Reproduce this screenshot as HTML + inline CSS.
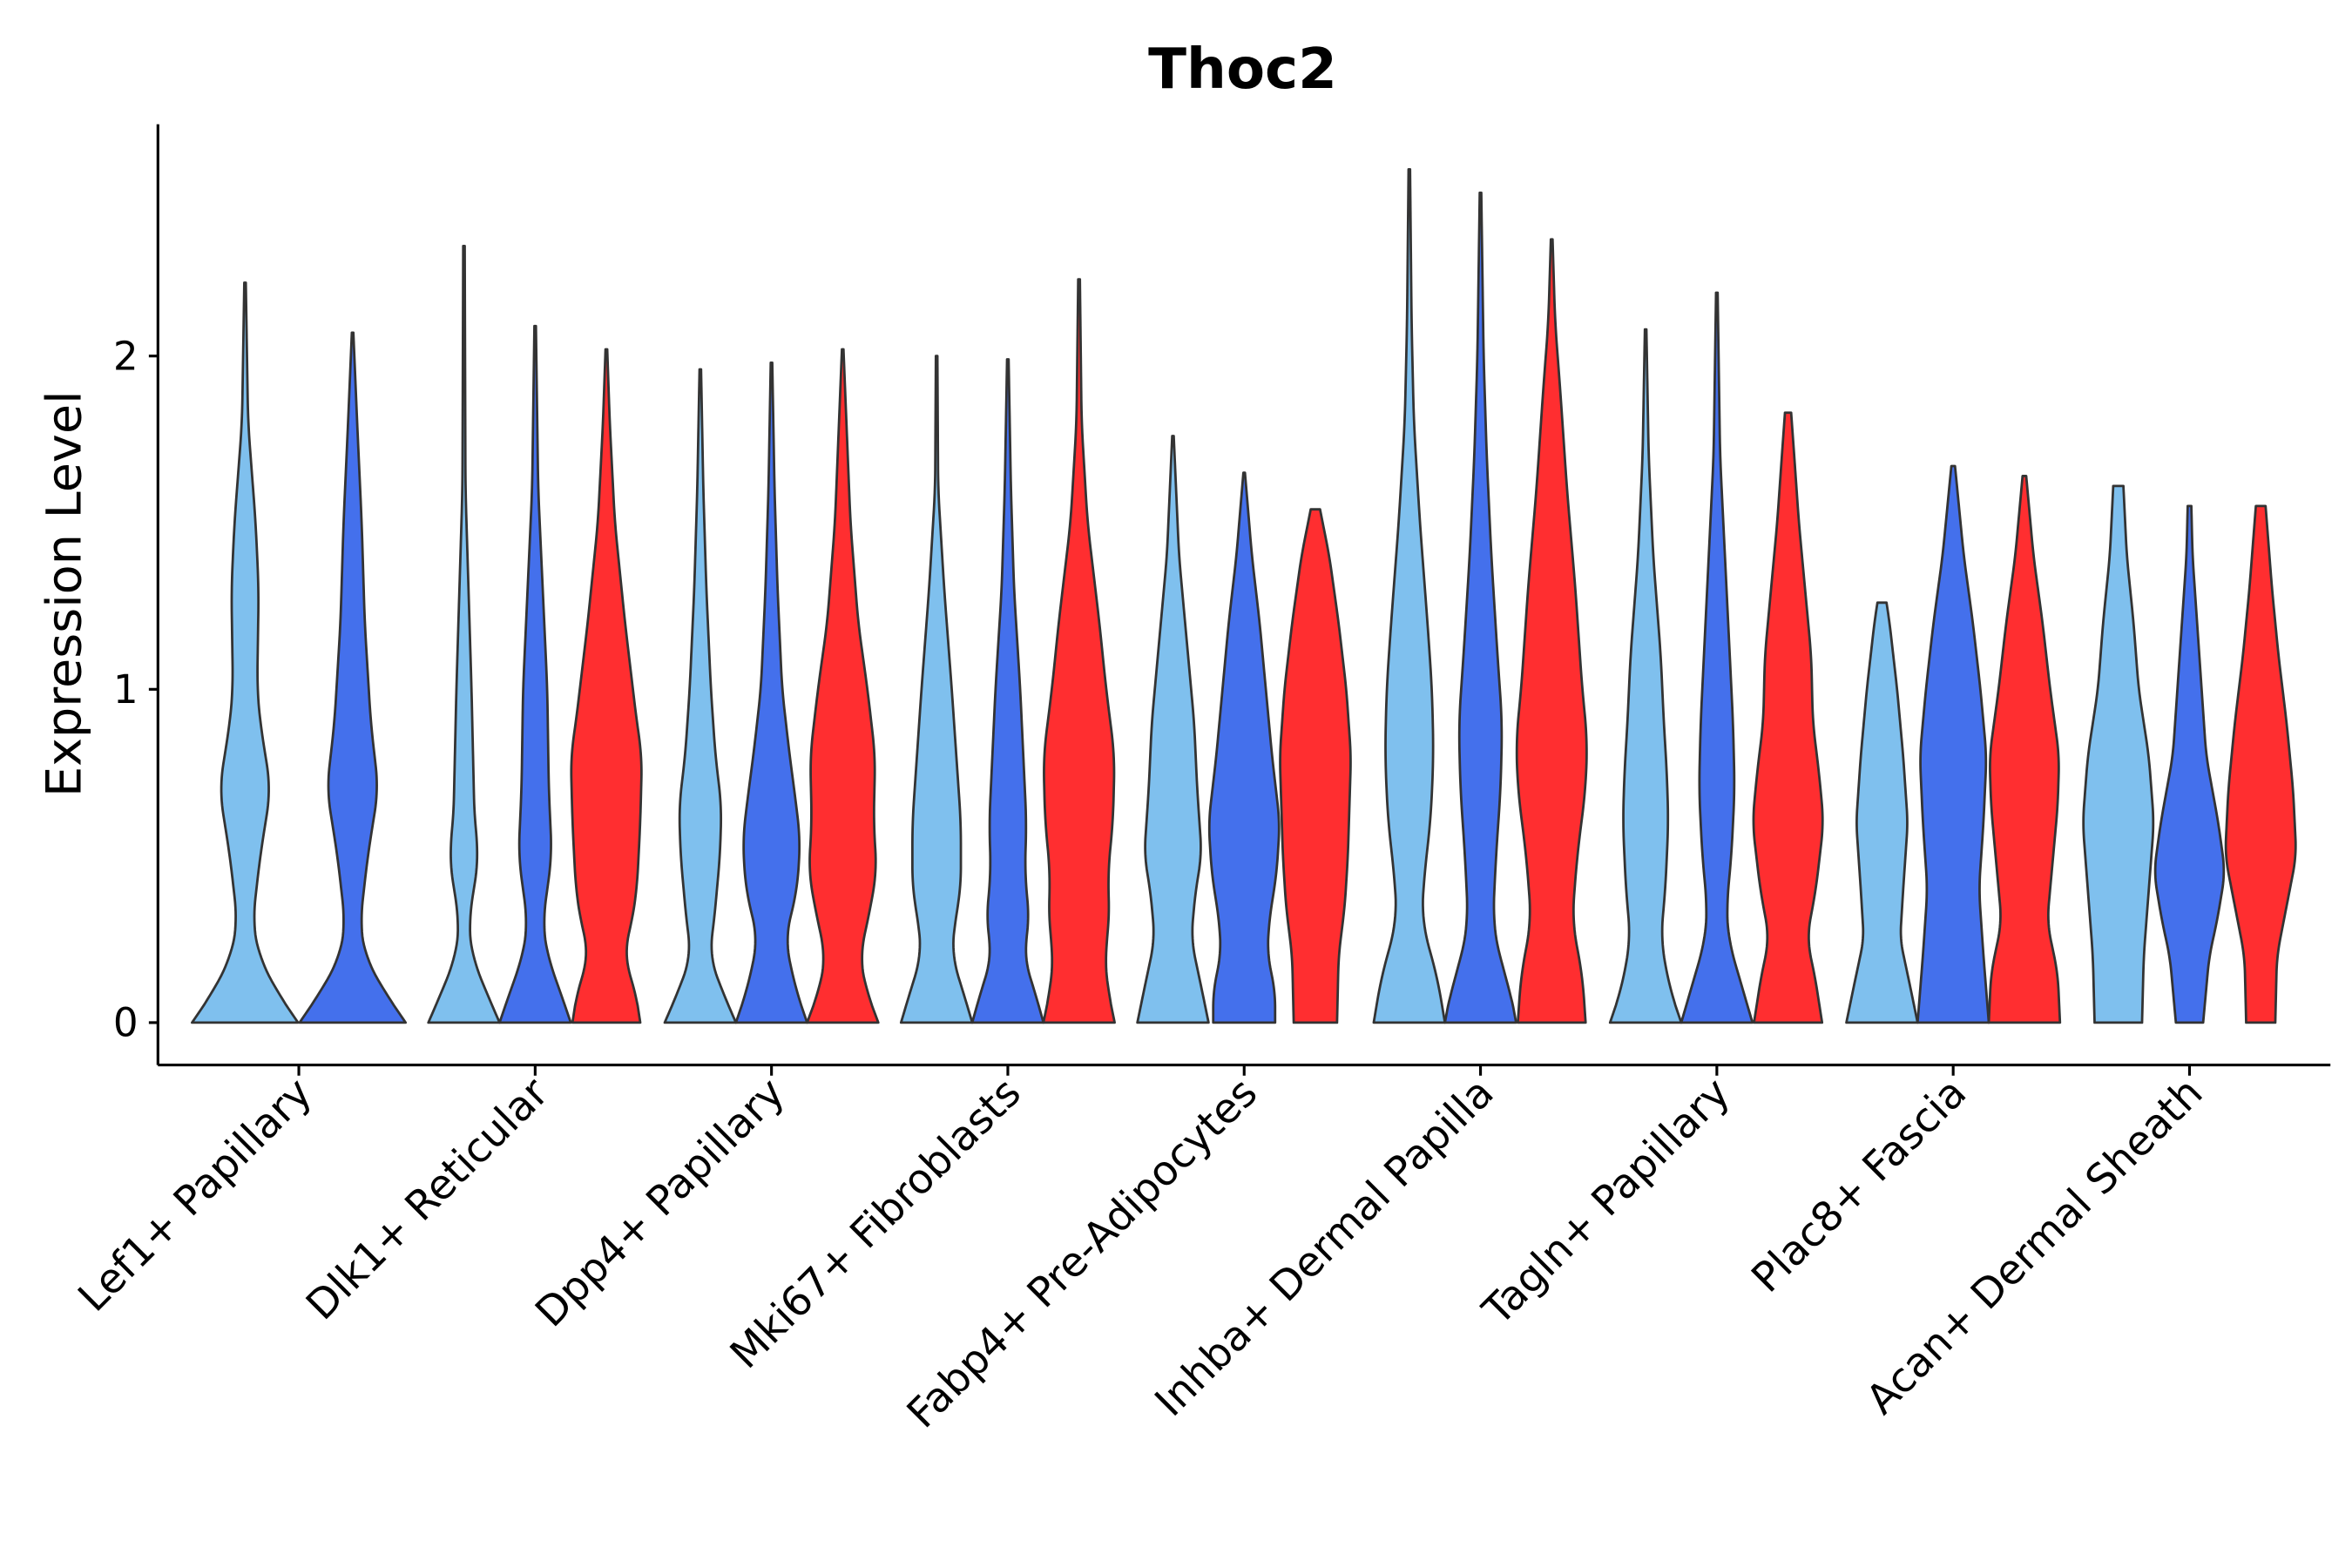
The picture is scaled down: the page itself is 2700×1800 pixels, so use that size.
<!DOCTYPE html>
<html><head><meta charset="utf-8"><style>
html,body{margin:0;padding:0;background:#fff;}
svg{display:block;font-family:"Liberation Sans","DejaVu Sans",sans-serif;}
</style></head><body>
<svg id="chart" width="2700" height="1800" viewBox="0 0 1552 1035" xmlns="http://www.w3.org/2000/svg">
<rect width="1552" height="1035" fill="#fff"/>
<text x="820" y="58" text-anchor="middle" font-size="37" font-weight="bold" font-family="DejaVu Sans, sans-serif">Thoc2</text>
<text transform="translate(53,392) rotate(-90)" text-anchor="middle" font-size="32" font-family="DejaVu Sans, sans-serif">Expression Level</text>
<g id="violins"></g>
<g id="axes"></g>
</svg>
<script>
const categories = ["Lef1+ Papillary","Dlk1+ Reticular","Dpp4+ Papillary","Mki67+ Fibroblasts","Fabp4+ Pre-Adipocytes","Inhba+ Dermal Papilla","Tagln+ Papillary","Plac8+ Fascia","Acan+ Dermal Sheath"];
const conditions = ["light","dark","red"];
const conditionColors = ["#7FC0EE","#4470EC","#FF2E30"];
const yTicks = [0,1,2];
const groupConditions = [[0,1],[0,1,2],[0,1,2],[0,1,2],[0,1,2],[0,1,2],[0,1,2],[0,1,2],[0,1,2]];
const maxValues = [
 [2.22,2.07],[2.33,2.09,2.02],[1.96,1.98,2.02],[2.0,1.99,2.23],[1.76,1.65,1.54],
 [2.56,2.49,2.35],[2.08,2.19,1.83],[1.26,1.67,1.64],[1.61,1.55,1.55]];
const densities = [
 [[[0,35],[0.1,20],[0.2,9],[0.3,5],[0.5,10],[0.7,17],[0.9,10],[1.0,8],[1.3,9],[1.5,7],[1.8,2],[2.22,0.5]],
  [[0,35],[0.1,20],[0.2,8],[0.3,5],[0.5,10],[0.7,17],[0.9,12],[1.2,8],[1.5,6],[1.8,3],[2.07,0.5]]],
 [[[0,23.5],[0.1,14],[0.2,5],[0.3,3],[0.5,10],[0.6,7],[0.8,6],[1.0,5],[1.3,3],[1.6,1],[2.33,0.5]],
  [[0,23.5],[0.1,16],[0.2,8],[0.3,5],[0.4,8],[0.5,11],[0.7,9],[1.0,8],[1.3,5],[1.6,2],[2.09,0.5]],
  [[0,20],[0.1,17],[0.2,10],[0.3,15],[0.4,18],[0.6,20],[0.8,21],[0.9,18],[1.2,11],[1.5,5],[1.8,2],[2.02,0.5]]],
 [[[0,23.5],[0.1,14],[0.2,6],[0.3,9],[0.5,13],[0.65,14],[0.8,10],[1.0,7],[1.3,4],[1.6,2],[1.96,0.5]],
  [[0,23.5],[0.1,16],[0.25,9],[0.4,17],[0.55,19],[0.7,15],[0.8,12],[1.0,7],[1.3,4],[1.6,2],[1.98,0.5]],
  [[0,23],[0.1,15],[0.2,11],[0.3,16],[0.45,22],[0.6,20],[0.8,21],[1.0,16],[1.2,10],[1.5,5],[2.02,0.5]]],
 [[[0,23.5],[0.1,17],[0.2,10],[0.3,12],[0.4,16],[0.6,16],[0.8,13],[1.0,10],[1.3,5],[1.6,1],[2.0,0.5]],
  [[0,23],[0.1,17],[0.2,10],[0.3,14],[0.45,11],[0.6,12],[0.8,10],[1.0,8],[1.3,4],[1.6,2],[1.99,0.5]],
  [[0,21],[0.1,17],[0.2,15],[0.3,18],[0.45,17],[0.6,20],[0.8,21],[1.0,16],[1.2,12],[1.5,5],[1.8,1.5],[2.23,0.5]]],
 [[[0,23.5],[0.1,19],[0.25,12],[0.4,15],[0.5,19],[0.7,16],[0.9,14],[1.1,10],[1.4,4],[1.76,0.5]],
  [[0,20],[0.1,20],[0.2,15],[0.3,16],[0.45,21],[0.6,23],[0.8,18],[1.0,14],[1.2,10],[1.4,5],[1.65,0.5]],
  [[0,14],[0.2,15],[0.35,19],[0.5,21],[0.8,23],[1.0,20],[1.2,15],[1.4,9],[1.54,3]]],
 [[[0,23.5],[0.15,18],[0.3,8],[0.45,10],[0.6,14],[0.8,16],[1.0,15],[1.2,12],[1.5,7],[1.8,3],[2.1,1.5],[2.56,0.5]],
  [[0,23],[0.1,19],[0.2,12],[0.3,8],[0.5,10],[0.7,13],[0.9,14],[1.1,11],[1.4,7],[1.7,4],[2.0,2],[2.49,0.5]],
  [[0,20],[0.15,18],[0.3,12],[0.5,15],[0.7,20],[0.85,21],[1.0,18],[1.3,14],[1.6,9],[1.9,5],[2.1,2],[2.35,0.5]]],
 [[[0,23.5],[0.1,16],[0.25,10],[0.4,13],[0.6,15],[0.75,14],[0.9,12],[1.1,10],[1.4,5],[1.7,2],[2.08,0.5]],
  [[0,22],[0.1,16],[0.25,7],[0.35,6],[0.5,9],[0.7,11],[0.9,10],[1.1,8],[1.4,5],[1.7,2],[2.19,0.5]],
  [[0,22],[0.15,17],[0.25,12],[0.4,18],[0.6,23],[0.75,20],[0.9,16],[1.1,15],[1.3,11],[1.5,7],[1.7,4],[1.83,2]]],
 [[[0,23.5],[0.1,19],[0.25,12],[0.4,14],[0.6,17],[0.8,14],[1.0,10],[1.2,5],[1.26,3]],
  [[0,23.5],[0.2,20],[0.4,17],[0.6,20],[0.8,22],[1.0,18],[1.2,13],[1.4,7],[1.67,1.2]],
  [[0,23.5],[0.15,22],[0.3,15],[0.45,18],[0.65,22],[0.8,23],[1.0,17],[1.2,12],[1.4,6],[1.64,1.2]]],
 [[[0,14],[0.2,15],[0.4,18],[0.6,21],[0.8,18],[1.0,12],[1.2,9],[1.4,5],[1.61,3]],
  [[0,9],[0.2,13],[0.3,18],[0.45,23.5],[0.6,19],[0.8,11],[1.0,8],[1.2,5],[1.4,2],[1.55,1.2]],
  [[0,9],[0.2,10],[0.3,14],[0.4,18],[0.5,22],[0.7,20],[0.9,16],[1.1,11],[1.3,7],[1.55,3]]]
];

const NS="http://www.w3.org/2000/svg";
const plotL=104, plotR=1538, plotB=703, plotT=82;
const y0px=675, pxPerUnit=220;
const yScale = v => y0px - v*pxPerUnit;
const groupStart=197, groupStep=156;
const xScale = i => groupStart + i*groupStep;

function interp(knots, y){
  if(y<=knots[0][0]) return knots[0][1];
  for(let k=1;k<knots.length;k++){
    if(y<=knots[k][0]){
      const a=knots[k-1], b=knots[k];
      const t=(y-a[0])/(b[0]-a[0]);
      return a[1]+(b[1]-a[1])*t;
    }
  }
  return knots[knots.length-1][1];
}

const vg=document.getElementById('violins');
categories.forEach((cat,gi)=>{
  const conds=groupConditions[gi];
  const n=conds.length;
  const dodge = n===2 ? 71 : 47;
  const halfMax = n===2 ? 35 : 23.5;
  conds.forEach((ci,j)=>{
    const cx = xScale(gi) + (j-(n-1)/2)*dodge;
    const knots = densities[gi][j];
    const top = maxValues[gi][j];
    const dmax = Math.max(...knots.map(k=>k[1]));
    const steps=160;
    const raw=[];
    for(let s=0;s<=steps;s++) raw.push(interp(knots,top*s/steps));
    const sm=raw.map((v,s)=>{
      const r=Math.min(5,s,steps-s);
      let sum=0,c=0;
      for(let k=-r;k<=r;k++){sum+=raw[s+k];c++;}
      return sum/c;
    });
    const right=[], left=[];
    for(let s=0;s<=steps;s++){
      const v=top*s/steps;
      const w=sm[s]/dmax*halfMax;
      right.push([cx+w, yScale(v)]);
      left.push([cx-w, yScale(v)]);
    }
    let d='M'+left[0][0].toFixed(2)+','+left[0][1].toFixed(2);
    right.forEach(p=>{d+=' L'+p[0].toFixed(2)+','+p[1].toFixed(2);});
    left.slice().reverse().forEach(p=>{d+=' L'+p[0].toFixed(2)+','+p[1].toFixed(2);});
    d+=' Z';
    const path=document.createElementNS(NS,'path');
    path.setAttribute('d',d);
    path.setAttribute('fill',conditionColors[ci]);
    path.setAttribute('stroke','#333');
    path.setAttribute('stroke-width','1.6');
    path.setAttribute('stroke-linejoin','round');
    
    
    vg.appendChild(path);
  });
});

const ag=document.getElementById('axes');
function line(x1,y1,x2,y2,name){
  const l=document.createElementNS(NS,'line');
  l.setAttribute('x1',x1);l.setAttribute('y1',y1);l.setAttribute('x2',x2);l.setAttribute('y2',y2);
  l.setAttribute('stroke','#000');l.setAttribute('stroke-width','1.8');
  
  
  ag.appendChild(l);
}
line(plotL,plotT,plotL,plotB,'y-axis-line');
line(plotL,plotB,plotR,plotB,'x-axis-line');
yTicks.forEach(t=>{
  const y=yScale(t);
  line(plotL-6,y,plotL,y,'y-tick');
  const tx=document.createElementNS(NS,'text');
  tx.setAttribute('x',plotL-13);tx.setAttribute('y',y+9);
  tx.setAttribute('text-anchor','end');tx.setAttribute('font-size','26');
  tx.setAttribute('font-family','DejaVu Sans, sans-serif');
  
  
  tx.textContent=String(t);
  ag.appendChild(tx);
});
categories.forEach((c,i)=>{
  const x=xScale(i);
  line(x,plotB,x,plotB+7,'x-tick');
  const tx=document.createElementNS(NS,'text');
  tx.setAttribute('transform','translate('+(x+10)+','+(plotB+20)+') rotate(-45)');
  tx.setAttribute('text-anchor','end');tx.setAttribute('font-size','27');
  tx.setAttribute('font-family','DejaVu Sans, sans-serif');
  
  
  tx.textContent=c;
  ag.appendChild(tx);
});
</script>
</body></html>
